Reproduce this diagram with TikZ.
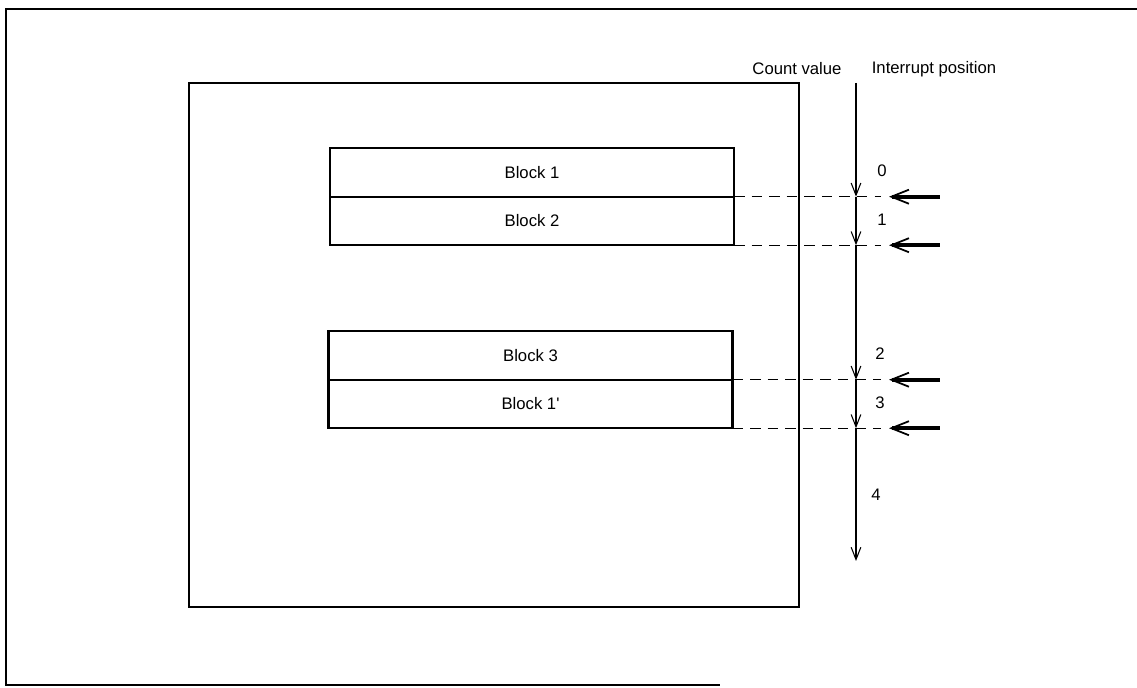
\documentclass[tikz,border=0pt]{standalone}
\usepackage{fontspec}
\setmainfont{Liberation Sans}
\usetikzlibrary{arrows.meta,positioning}

\begin{document}
\begin{tikzpicture}[x=0.02cm,y=-0.02cm,
  blk/.style={rectangle,draw,line width=1.4pt,minimum width=8.08cm,minimum height=0.97cm,
              inner sep=0pt,outer sep=0pt,font=\fontsize{9.5}{11}\selectfont},
  cnt/.style={-{Straight Barb[length=7pt,width=5.5pt]},line width=0.6pt},
  intr/.style={-{Straight Barb[length=10pt,width=8pt,line width=1pt]},line width=2.2pt},
  dsh/.style={dash pattern=on 6pt off 4pt,line width=0.6pt},
  lbl/.style={font=\fontsize{9.5}{11}\selectfont}
]
  \useasboundingbox (0,0) rectangle (1137,688);
  \draw[line width=1.2pt] (1137,9) -- (6,9) -- (6,685) -- (720,685);

  \node[draw,line width=1.5pt,minimum width=12.2cm,minimum height=10.48cm,inner sep=0pt] (mem) at (494,345) {};

  \node[blk] (b1) at (532,172.5) {Block 1};
  \node[blk,below=0pt of b1] (b2) {Block 2};
  \node[blk] (b3) at (530.5,355.5) {Block 3};
  \node[blk,below=0pt of b3] (b4) {Block 1\textquotesingle};

  \node[lbl] (cv) at (797,69) {Count value};
  \node[lbl] (ip) at (934,69) {Interrupt position};

  \coordinate (top) at (856,83);
  \coordinate (bot) at (856,561);
  \coordinate (p0) at (b1.south east -| top);
  \coordinate (p1) at (b2.south east -| top);
  \coordinate (p2) at (b3.south east -| top);
  \coordinate (p3) at (b4.south east -| top);

  \draw[cnt] (top) -- (p0) node[lbl,pos=1,anchor=south west,xshift=0.3cm,yshift=0.28cm] {0};
  \draw[cnt] (p0) -- (p1) node[lbl,pos=1,anchor=south west,xshift=0.3cm,yshift=0.26cm] {1};
  \draw[cnt] (p1) -- (p2) node[lbl,pos=1,anchor=south west,xshift=0.26cm,yshift=0.28cm] {2};
  \draw[cnt] (p2) -- (p3) node[lbl,pos=1,anchor=south west,xshift=0.26cm,yshift=0.27cm] {3};
  \draw[cnt] (p3) -- (bot) node[lbl,midway,right=0.18cm] {4};

  % dashed marks and interrupt arrows
  \draw[dsh] (b1.south east) -- ([xshift=0.5cm]p0);
  \draw[dsh] (b2.south east) -- ([xshift=0.5cm]p1);
  \draw[dsh] (b3.south east) -- ([xshift=0.5cm]p2);
  \draw[dsh] (b4.south east) -- ([xshift=0.5cm]p3);
  \draw[intr] ([xshift=1.68cm]p0) -- ([xshift=0.66cm]p0);
  \draw[intr] ([xshift=1.68cm]p1) -- ([xshift=0.66cm]p1);
  \draw[intr] ([xshift=1.68cm]p2) -- ([xshift=0.66cm]p2);
  \draw[intr] ([xshift=1.68cm]p3) -- ([xshift=0.66cm]p3);
\end{tikzpicture}
\end{document}
